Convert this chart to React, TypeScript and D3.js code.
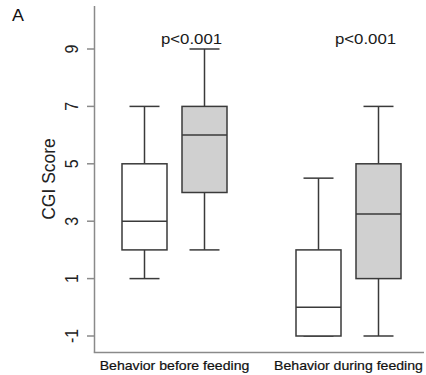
import React from "react";
import * as d3 from "d3";

// groups along the x axis
const groups = ["Behavior before feeding", "Behavior during feeding"];
const series = ["white", "gray"];

// box statistics per group
const whiteMin = [1, -1];
const whiteQ1 = [2, -1];
const whiteMed = [3, 0];
const whiteQ3 = [5, 2];
const whiteMax = [7, 4.5];

const grayMin = [2, -1];
const grayQ1 = [4, 1];
const grayMed = [6, 3.25];
const grayQ3 = [7, 5];
const grayMax = [9, 7];

const pLabels = ["p<0.001", "p<0.001"];
const yTicks = [-1, 1, 3, 5, 7, 9];

const W = 426;
const H = 375;
const SX = 1.12; // the original text looks slightly wider than normal
const FONT = "Arial, 'Liberation Sans', sans-serif";

const fills: Record<string, string> = { white: "#ffffff", gray: "#d0d0d0" };

export default function App() {
  const y = d3.scaleLinear().domain([-1, 9]).range([336, 49]);
  const xGroup = d3.scaleBand().domain(groups).range([87.5, 435.5]);
  const xSub = d3.scalePoint().domain(series).range([-30, 30]);
  const boxW = 45;
  const capW = 30;
  const axisX = 94.5;
  const axisBottom = 352.5;
  const axisTop = 6;

  const boxes = groups.flatMap((g, i) => [
    { g, s: "white", min: whiteMin[i], q1: whiteQ1[i], med: whiteMed[i], q3: whiteQ3[i], max: whiteMax[i] },
    { g, s: "gray", min: grayMin[i], q1: grayQ1[i], med: grayMed[i], q3: grayQ3[i], max: grayMax[i] },
  ]);

  const stroke = "#3a3a3a";

  return (
    <svg
      width={W}
      height={H}
      style={{ position: "absolute", left: 0, top: 0, background: "#fff" }}
      fontFamily={FONT}
    >
      {/* panel letter */}
      <text transform={`translate(12,21) scale(${SX},1)`} fontSize={16} fill="#111">
        A
      </text>

      {/* y axis */}
      <line x1={axisX} x2={axisX} y1={axisTop} y2={axisBottom} stroke="#8a8a8a" strokeWidth={1.5} />
      {yTicks.map((t) => (
        <g key={t}>
          <line x1={87} x2={axisX} y1={y(t)} y2={y(t)} stroke="#8a8a8a" strokeWidth={1.5} />
          <text
            transform={`translate(78,${y(t)}) scale(${SX},1) rotate(-90)`}
            textAnchor="middle"
            fontSize={16}
            fill="#222"
          >
            {t}
          </text>
        </g>
      ))}
      <text
        transform={`translate(55,179) scale(${SX * 0.95},1) rotate(-90)`}
        textAnchor="middle"
        fontSize={17.5}
        fill="#222"
      >
        CGI Score
      </text>

      {/* x axis */}
      <line x1={axisX - 0.75} x2={424} y1={axisBottom} y2={axisBottom} stroke="#8a8a8a" strokeWidth={1.5} />
      {groups.map((g) => (
        <text
          key={g}
          transform={`translate(${(xGroup(g) ?? 0) + xGroup.bandwidth() / 2},369.5) scale(${SX},1)`}
          textAnchor="middle"
          fontSize={12.6}
          fill="#111"
          stroke="#111"
          strokeWidth={0.2}
        >
          {g}
        </text>
      ))}

      {/* p values */}
      {groups.map((g, i) => (
        <text
          key={`p-${g}`}
          transform={`translate(${(xGroup(g) ?? 0) + xGroup.bandwidth() / 2 + 17},43.5) scale(${SX},1)`}
          textAnchor="middle"
          fontSize={15}
          fill="#1a1a1a"
        >
          {pLabels[i]}
        </text>
      ))}

      {/* boxes */}
      {boxes.map((b, i) => {
        const cx = (xGroup(b.g) ?? 0) + xGroup.bandwidth() / 2 + (xSub(b.s) ?? 0);
        return (
          <g key={i} stroke={stroke} strokeWidth={1.5}>
            <line x1={cx} x2={cx} y1={y(b.max)} y2={y(b.q3)} />
            <line x1={cx} x2={cx} y1={y(b.q1)} y2={y(b.min)} />
            <line x1={cx - capW / 2} x2={cx + capW / 2} y1={y(b.max)} y2={y(b.max)} />
            <line x1={cx - capW / 2} x2={cx + capW / 2} y1={y(b.min)} y2={y(b.min)} />
            <rect
              x={cx - boxW / 2}
              y={y(b.q3)}
              width={boxW}
              height={y(b.q1) - y(b.q3)}
              fill={fills[b.s]}
            />
            <line x1={cx - boxW / 2} x2={cx + boxW / 2} y1={y(b.med)} y2={y(b.med)} />
          </g>
        );
      })}
    </svg>
  );
}
